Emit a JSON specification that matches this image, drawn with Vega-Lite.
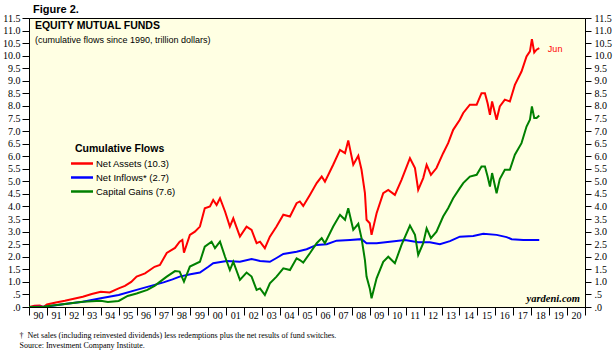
{
  "$schema": "https://vega.github.io/schema/vega-lite/v6.json",
  "width": 556,
  "height": 289,
  "autosize": "none",
  "padding": {"left": 29, "top": 18, "right": 31, "bottom": 46},
  "background": "white",
  "title": {"text": "Figure 2.", "anchor": "start", "frame": "group", "offset": 0, "dy": 2, "dx": 4, "font": "Liberation Sans", "fontSize": 11, "fontWeight": "bold", "color": "black"},
  "config": {
    "view": {"fill": "#FFFFE3", "stroke": "black", "strokeWidth": 1},
    "axis": {"grid": false, "domainColor": "black", "tickColor": "black", "labelColor": "black", "labelFont": "Liberation Serif", "labelFontSize": 10}
  },
  "data": {"values": [
    {"t": 1990.0, "s": "Net Assets (10.3)", "v": 0.0},
    {"t": 1990.3, "s": "Net Assets (10.3)", "v": 0.05},
    {"t": 1990.6, "s": "Net Assets (10.3)", "v": 0.06},
    {"t": 1990.8, "s": "Net Assets (10.3)", "v": 0.0},
    {"t": 1991.0, "s": "Net Assets (10.3)", "v": 0.1},
    {"t": 1991.5, "s": "Net Assets (10.3)", "v": 0.18},
    {"t": 1992.0, "s": "Net Assets (10.3)", "v": 0.25},
    {"t": 1992.5, "s": "Net Assets (10.3)", "v": 0.33},
    {"t": 1993.0, "s": "Net Assets (10.3)", "v": 0.41},
    {"t": 1993.5, "s": "Net Assets (10.3)", "v": 0.52},
    {"t": 1994.0, "s": "Net Assets (10.3)", "v": 0.61},
    {"t": 1994.5, "s": "Net Assets (10.3)", "v": 0.58},
    {"t": 1995.0, "s": "Net Assets (10.3)", "v": 0.74},
    {"t": 1995.35, "s": "Net Assets (10.3)", "v": 0.84},
    {"t": 1995.7, "s": "Net Assets (10.3)", "v": 1.0},
    {"t": 1996.0, "s": "Net Assets (10.3)", "v": 1.21},
    {"t": 1996.47, "s": "Net Assets (10.3)", "v": 1.34},
    {"t": 1997.0, "s": "Net Assets (10.3)", "v": 1.6},
    {"t": 1997.3, "s": "Net Assets (10.3)", "v": 1.67},
    {"t": 1997.68, "s": "Net Assets (10.3)", "v": 2.15},
    {"t": 1998.14, "s": "Net Assets (10.3)", "v": 2.35},
    {"t": 1998.4, "s": "Net Assets (10.3)", "v": 2.6},
    {"t": 1998.55, "s": "Net Assets (10.3)", "v": 2.67},
    {"t": 1998.64, "s": "Net Assets (10.3)", "v": 2.16},
    {"t": 1998.97, "s": "Net Assets (10.3)", "v": 2.87},
    {"t": 1999.25, "s": "Net Assets (10.3)", "v": 3.0},
    {"t": 1999.53, "s": "Net Assets (10.3)", "v": 3.2},
    {"t": 1999.8, "s": "Net Assets (10.3)", "v": 3.93},
    {"t": 2000.09, "s": "Net Assets (10.3)", "v": 4.0},
    {"t": 2000.27, "s": "Net Assets (10.3)", "v": 4.26},
    {"t": 2000.46, "s": "Net Assets (10.3)", "v": 4.06},
    {"t": 2000.65, "s": "Net Assets (10.3)", "v": 4.33},
    {"t": 2000.93, "s": "Net Assets (10.3)", "v": 3.8},
    {"t": 2001.2, "s": "Net Assets (10.3)", "v": 3.2},
    {"t": 2001.39, "s": "Net Assets (10.3)", "v": 3.53},
    {"t": 2001.76, "s": "Net Assets (10.3)", "v": 2.8},
    {"t": 2002.13, "s": "Net Assets (10.3)", "v": 3.2},
    {"t": 2002.41, "s": "Net Assets (10.3)", "v": 3.07},
    {"t": 2002.69, "s": "Net Assets (10.3)", "v": 2.54},
    {"t": 2002.88, "s": "Net Assets (10.3)", "v": 2.6},
    {"t": 2003.15, "s": "Net Assets (10.3)", "v": 2.34},
    {"t": 2003.43, "s": "Net Assets (10.3)", "v": 2.8},
    {"t": 2003.8, "s": "Net Assets (10.3)", "v": 3.2},
    {"t": 2004.18, "s": "Net Assets (10.3)", "v": 3.67},
    {"t": 2004.55, "s": "Net Assets (10.3)", "v": 3.6},
    {"t": 2004.92, "s": "Net Assets (10.3)", "v": 4.13},
    {"t": 2005.1, "s": "Net Assets (10.3)", "v": 4.2},
    {"t": 2005.29, "s": "Net Assets (10.3)", "v": 4.02},
    {"t": 2005.66, "s": "Net Assets (10.3)", "v": 4.46},
    {"t": 2006.04, "s": "Net Assets (10.3)", "v": 4.93},
    {"t": 2006.32, "s": "Net Assets (10.3)", "v": 5.19},
    {"t": 2006.5, "s": "Net Assets (10.3)", "v": 4.99},
    {"t": 2006.96, "s": "Net Assets (10.3)", "v": 5.66},
    {"t": 2007.34, "s": "Net Assets (10.3)", "v": 6.25},
    {"t": 2007.62, "s": "Net Assets (10.3)", "v": 6.12},
    {"t": 2007.8, "s": "Net Assets (10.3)", "v": 6.63},
    {"t": 2008.08, "s": "Net Assets (10.3)", "v": 5.66},
    {"t": 2008.36, "s": "Net Assets (10.3)", "v": 6.02},
    {"t": 2008.54, "s": "Net Assets (10.3)", "v": 5.46},
    {"t": 2008.73, "s": "Net Assets (10.3)", "v": 4.53},
    {"t": 2008.82, "s": "Net Assets (10.3)", "v": 3.47},
    {"t": 2009.0, "s": "Net Assets (10.3)", "v": 3.33},
    {"t": 2009.1, "s": "Net Assets (10.3)", "v": 2.87},
    {"t": 2009.38, "s": "Net Assets (10.3)", "v": 3.73},
    {"t": 2009.75, "s": "Net Assets (10.3)", "v": 4.53},
    {"t": 2010.03, "s": "Net Assets (10.3)", "v": 4.66},
    {"t": 2010.4, "s": "Net Assets (10.3)", "v": 4.46},
    {"t": 2010.77, "s": "Net Assets (10.3)", "v": 5.06},
    {"t": 2011.24, "s": "Net Assets (10.3)", "v": 5.92},
    {"t": 2011.52, "s": "Net Assets (10.3)", "v": 5.53},
    {"t": 2011.7, "s": "Net Assets (10.3)", "v": 4.66},
    {"t": 2011.98, "s": "Net Assets (10.3)", "v": 5.13},
    {"t": 2012.17, "s": "Net Assets (10.3)", "v": 5.66},
    {"t": 2012.41, "s": "Net Assets (10.3)", "v": 5.26},
    {"t": 2012.72, "s": "Net Assets (10.3)", "v": 5.53},
    {"t": 2013.09, "s": "Net Assets (10.3)", "v": 6.12},
    {"t": 2013.37, "s": "Net Assets (10.3)", "v": 6.52},
    {"t": 2013.65, "s": "Net Assets (10.3)", "v": 7.05},
    {"t": 2014.02, "s": "Net Assets (10.3)", "v": 7.45},
    {"t": 2014.21, "s": "Net Assets (10.3)", "v": 7.72},
    {"t": 2014.58, "s": "Net Assets (10.3)", "v": 8.05},
    {"t": 2014.96, "s": "Net Assets (10.3)", "v": 8.05},
    {"t": 2015.23, "s": "Net Assets (10.3)", "v": 8.51},
    {"t": 2015.42, "s": "Net Assets (10.3)", "v": 8.51},
    {"t": 2015.57, "s": "Net Assets (10.3)", "v": 8.11},
    {"t": 2015.7, "s": "Net Assets (10.3)", "v": 7.65},
    {"t": 2015.82, "s": "Net Assets (10.3)", "v": 8.18},
    {"t": 2016.07, "s": "Net Assets (10.3)", "v": 7.45},
    {"t": 2016.25, "s": "Net Assets (10.3)", "v": 7.98},
    {"t": 2016.53, "s": "Net Assets (10.3)", "v": 8.25},
    {"t": 2016.81, "s": "Net Assets (10.3)", "v": 8.18},
    {"t": 2017.09, "s": "Net Assets (10.3)", "v": 8.84},
    {"t": 2017.46, "s": "Net Assets (10.3)", "v": 9.37},
    {"t": 2017.74, "s": "Net Assets (10.3)", "v": 9.97},
    {"t": 2017.93, "s": "Net Assets (10.3)", "v": 10.17},
    {"t": 2018.04, "s": "Net Assets (10.3)", "v": 10.66},
    {"t": 2018.17, "s": "Net Assets (10.3)", "v": 10.13},
    {"t": 2018.3, "s": "Net Assets (10.3)", "v": 10.24},
    {"t": 2018.45, "s": "Net Assets (10.3)", "v": 10.3},

    {"t": 1990.0, "s": "Net Inflows* (2.7)", "v": 0.0},
    {"t": 1990.5, "s": "Net Inflows* (2.7)", "v": 0.01},
    {"t": 1991.0, "s": "Net Inflows* (2.7)", "v": 0.02},
    {"t": 1992.0, "s": "Net Inflows* (2.7)", "v": 0.12},
    {"t": 1993.0, "s": "Net Inflows* (2.7)", "v": 0.21},
    {"t": 1994.0, "s": "Net Inflows* (2.7)", "v": 0.35},
    {"t": 1995.0, "s": "Net Inflows* (2.7)", "v": 0.48},
    {"t": 1996.0, "s": "Net Inflows* (2.7)", "v": 0.68},
    {"t": 1997.0, "s": "Net Inflows* (2.7)", "v": 0.88},
    {"t": 1997.5, "s": "Net Inflows* (2.7)", "v": 0.98},
    {"t": 1998.0, "s": "Net Inflows* (2.7)", "v": 1.1},
    {"t": 1998.4, "s": "Net Inflows* (2.7)", "v": 1.21},
    {"t": 1999.0, "s": "Net Inflows* (2.7)", "v": 1.3},
    {"t": 1999.53, "s": "Net Inflows* (2.7)", "v": 1.37},
    {"t": 2000.0, "s": "Net Inflows* (2.7)", "v": 1.6},
    {"t": 2000.27, "s": "Net Inflows* (2.7)", "v": 1.74},
    {"t": 2001.02, "s": "Net Inflows* (2.7)", "v": 1.83},
    {"t": 2001.76, "s": "Net Inflows* (2.7)", "v": 1.8},
    {"t": 2002.41, "s": "Net Inflows* (2.7)", "v": 1.91},
    {"t": 2002.88, "s": "Net Inflows* (2.7)", "v": 1.83},
    {"t": 2003.43, "s": "Net Inflows* (2.7)", "v": 1.8},
    {"t": 2003.8, "s": "Net Inflows* (2.7)", "v": 1.95},
    {"t": 2004.18, "s": "Net Inflows* (2.7)", "v": 2.11},
    {"t": 2004.92, "s": "Net Inflows* (2.7)", "v": 2.2},
    {"t": 2005.48, "s": "Net Inflows* (2.7)", "v": 2.3},
    {"t": 2006.04, "s": "Net Inflows* (2.7)", "v": 2.47},
    {"t": 2006.6, "s": "Net Inflows* (2.7)", "v": 2.5},
    {"t": 2007.15, "s": "Net Inflows* (2.7)", "v": 2.64},
    {"t": 2007.9, "s": "Net Inflows* (2.7)", "v": 2.67},
    {"t": 2008.54, "s": "Net Inflows* (2.7)", "v": 2.7},
    {"t": 2008.82, "s": "Net Inflows* (2.7)", "v": 2.54},
    {"t": 2009.38, "s": "Net Inflows* (2.7)", "v": 2.54},
    {"t": 2010.12, "s": "Net Inflows* (2.7)", "v": 2.6},
    {"t": 2010.96, "s": "Net Inflows* (2.7)", "v": 2.67},
    {"t": 2011.7, "s": "Net Inflows* (2.7)", "v": 2.58},
    {"t": 2012.35, "s": "Net Inflows* (2.7)", "v": 2.58},
    {"t": 2012.91, "s": "Net Inflows* (2.7)", "v": 2.5},
    {"t": 2013.47, "s": "Net Inflows* (2.7)", "v": 2.62},
    {"t": 2014.02, "s": "Net Inflows* (2.7)", "v": 2.8},
    {"t": 2014.77, "s": "Net Inflows* (2.7)", "v": 2.83},
    {"t": 2015.33, "s": "Net Inflows* (2.7)", "v": 2.91},
    {"t": 2016.07, "s": "Net Inflows* (2.7)", "v": 2.87},
    {"t": 2016.63, "s": "Net Inflows* (2.7)", "v": 2.78},
    {"t": 2016.91, "s": "Net Inflows* (2.7)", "v": 2.7},
    {"t": 2017.56, "s": "Net Inflows* (2.7)", "v": 2.67},
    {"t": 2018.45, "s": "Net Inflows* (2.7)", "v": 2.67},

    {"t": 1990.0, "s": "Capital Gains (7.6)", "v": 0.0},
    {"t": 1990.8, "s": "Capital Gains (7.6)", "v": 0.0},
    {"t": 1991.0, "s": "Capital Gains (7.6)", "v": 0.03},
    {"t": 1992.0, "s": "Capital Gains (7.6)", "v": 0.12},
    {"t": 1993.0, "s": "Capital Gains (7.6)", "v": 0.21},
    {"t": 1994.0, "s": "Capital Gains (7.6)", "v": 0.25},
    {"t": 1994.4, "s": "Capital Gains (7.6)", "v": 0.2},
    {"t": 1995.0, "s": "Capital Gains (7.6)", "v": 0.24},
    {"t": 1995.5, "s": "Capital Gains (7.6)", "v": 0.44},
    {"t": 1996.0, "s": "Capital Gains (7.6)", "v": 0.54},
    {"t": 1996.6, "s": "Capital Gains (7.6)", "v": 0.68},
    {"t": 1997.0, "s": "Capital Gains (7.6)", "v": 0.84},
    {"t": 1997.55, "s": "Capital Gains (7.6)", "v": 1.14},
    {"t": 1997.68, "s": "Capital Gains (7.6)", "v": 1.21},
    {"t": 1998.14, "s": "Capital Gains (7.6)", "v": 1.43},
    {"t": 1998.4, "s": "Capital Gains (7.6)", "v": 1.41},
    {"t": 1998.64, "s": "Capital Gains (7.6)", "v": 1.01},
    {"t": 1998.97, "s": "Capital Gains (7.6)", "v": 1.61},
    {"t": 1999.53, "s": "Capital Gains (7.6)", "v": 1.8},
    {"t": 1999.8, "s": "Capital Gains (7.6)", "v": 2.4},
    {"t": 2000.18, "s": "Capital Gains (7.6)", "v": 2.6},
    {"t": 2000.37, "s": "Capital Gains (7.6)", "v": 2.34},
    {"t": 2000.65, "s": "Capital Gains (7.6)", "v": 2.6},
    {"t": 2000.93, "s": "Capital Gains (7.6)", "v": 2.0},
    {"t": 2001.2, "s": "Capital Gains (7.6)", "v": 1.47},
    {"t": 2001.39, "s": "Capital Gains (7.6)", "v": 1.8},
    {"t": 2001.76, "s": "Capital Gains (7.6)", "v": 1.08},
    {"t": 2002.13, "s": "Capital Gains (7.6)", "v": 1.37},
    {"t": 2002.41, "s": "Capital Gains (7.6)", "v": 1.21},
    {"t": 2002.69, "s": "Capital Gains (7.6)", "v": 0.68},
    {"t": 2002.88, "s": "Capital Gains (7.6)", "v": 0.74},
    {"t": 2003.15, "s": "Capital Gains (7.6)", "v": 0.48},
    {"t": 2003.43, "s": "Capital Gains (7.6)", "v": 0.94},
    {"t": 2003.8, "s": "Capital Gains (7.6)", "v": 1.21},
    {"t": 2004.18, "s": "Capital Gains (7.6)", "v": 1.54},
    {"t": 2004.55, "s": "Capital Gains (7.6)", "v": 1.47},
    {"t": 2004.92, "s": "Capital Gains (7.6)", "v": 1.94},
    {"t": 2005.1, "s": "Capital Gains (7.6)", "v": 1.87},
    {"t": 2005.29, "s": "Capital Gains (7.6)", "v": 1.77},
    {"t": 2005.66, "s": "Capital Gains (7.6)", "v": 2.14},
    {"t": 2006.04, "s": "Capital Gains (7.6)", "v": 2.54},
    {"t": 2006.32, "s": "Capital Gains (7.6)", "v": 2.74},
    {"t": 2006.5, "s": "Capital Gains (7.6)", "v": 2.54},
    {"t": 2006.96, "s": "Capital Gains (7.6)", "v": 3.2},
    {"t": 2007.34, "s": "Capital Gains (7.6)", "v": 3.67},
    {"t": 2007.62, "s": "Capital Gains (7.6)", "v": 3.47},
    {"t": 2007.8, "s": "Capital Gains (7.6)", "v": 3.93},
    {"t": 2008.08, "s": "Capital Gains (7.6)", "v": 3.07},
    {"t": 2008.36, "s": "Capital Gains (7.6)", "v": 3.31},
    {"t": 2008.54, "s": "Capital Gains (7.6)", "v": 2.74},
    {"t": 2008.73, "s": "Capital Gains (7.6)", "v": 1.87},
    {"t": 2008.82, "s": "Capital Gains (7.6)", "v": 1.21},
    {"t": 2009.0, "s": "Capital Gains (7.6)", "v": 0.74},
    {"t": 2009.1, "s": "Capital Gains (7.6)", "v": 0.35},
    {"t": 2009.38, "s": "Capital Gains (7.6)", "v": 1.14},
    {"t": 2009.75, "s": "Capital Gains (7.6)", "v": 1.8},
    {"t": 2010.03, "s": "Capital Gains (7.6)", "v": 2.0},
    {"t": 2010.4, "s": "Capital Gains (7.6)", "v": 1.74},
    {"t": 2010.77, "s": "Capital Gains (7.6)", "v": 2.47},
    {"t": 2011.24, "s": "Capital Gains (7.6)", "v": 3.24},
    {"t": 2011.52, "s": "Capital Gains (7.6)", "v": 2.87},
    {"t": 2011.7, "s": "Capital Gains (7.6)", "v": 2.07},
    {"t": 2011.98, "s": "Capital Gains (7.6)", "v": 2.54},
    {"t": 2012.17, "s": "Capital Gains (7.6)", "v": 3.13},
    {"t": 2012.41, "s": "Capital Gains (7.6)", "v": 2.74},
    {"t": 2012.72, "s": "Capital Gains (7.6)", "v": 3.0},
    {"t": 2013.09, "s": "Capital Gains (7.6)", "v": 3.6},
    {"t": 2013.37, "s": "Capital Gains (7.6)", "v": 3.93},
    {"t": 2013.65, "s": "Capital Gains (7.6)", "v": 4.33},
    {"t": 2014.02, "s": "Capital Gains (7.6)", "v": 4.73},
    {"t": 2014.21, "s": "Capital Gains (7.6)", "v": 4.93},
    {"t": 2014.58, "s": "Capital Gains (7.6)", "v": 5.19},
    {"t": 2014.96, "s": "Capital Gains (7.6)", "v": 5.26},
    {"t": 2015.23, "s": "Capital Gains (7.6)", "v": 5.59},
    {"t": 2015.42, "s": "Capital Gains (7.6)", "v": 5.59},
    {"t": 2015.57, "s": "Capital Gains (7.6)", "v": 5.19},
    {"t": 2015.7, "s": "Capital Gains (7.6)", "v": 4.79},
    {"t": 2015.82, "s": "Capital Gains (7.6)", "v": 5.33},
    {"t": 2016.07, "s": "Capital Gains (7.6)", "v": 4.53},
    {"t": 2016.25, "s": "Capital Gains (7.6)", "v": 5.09},
    {"t": 2016.53, "s": "Capital Gains (7.6)", "v": 5.46},
    {"t": 2016.81, "s": "Capital Gains (7.6)", "v": 5.46},
    {"t": 2017.09, "s": "Capital Gains (7.6)", "v": 6.06},
    {"t": 2017.46, "s": "Capital Gains (7.6)", "v": 6.52},
    {"t": 2017.74, "s": "Capital Gains (7.6)", "v": 7.18},
    {"t": 2017.93, "s": "Capital Gains (7.6)", "v": 7.45},
    {"t": 2018.04, "s": "Capital Gains (7.6)", "v": 7.98},
    {"t": 2018.17, "s": "Capital Gains (7.6)", "v": 7.52},
    {"t": 2018.3, "s": "Capital Gains (7.6)", "v": 7.52},
    {"t": 2018.45, "s": "Capital Gains (7.6)", "v": 7.62}
  ]},
  "layer": [
    {
      "encoding": {
        "x": {
          "field": "t", "type": "quantitative",
          "scale": {"domain": [1990, 2021], "nice": false, "zero": false},
          "axis": {
            "values": [1990,1991,1992,1993,1994,1995,1996,1997,1998,1999,2000,2001,2002,2003,2004,2005,2006,2007,2008,2009,2010,2011,2012,2013,2014,2015,2016,2017,2018,2019,2020,2021],
            "labelExpr": "datum.value >= 2021 ? '' : slice(toString(datum.value), 2)",
            "labelOffset": 9, "labelFlush": false, "labelOverlap": false, "labelBaseline": "top",
            "tickSize": 8, "labelPadding": -5,
            "title": ["\u2020\u00a0\u00a0Net sales (including reinvested dividends) less redemptions plus the net results of fund switches.", "\u00a0\u00a0\u00a0\u00a0Source: Investment Company Institute."],
            "titleFont": "Liberation Serif", "titleFontSize": 8, "titleFontWeight": "normal", "titleColor": "black",
            "titleAnchor": "start", "titleAlign": "left", "titleBaseline": "top", "titleLineHeight": 10,
            "titleX": -10, "titleY": 24
          }
        },
        "y": {
          "field": "v", "type": "quantitative",
          "scale": {"domain": [0, 11.5], "nice": false},
          "axis": {
            "values": [0,0.5,1,1.5,2,2.5,3,3.5,4,4.5,5,5.5,6,6.5,7,7.5,8,8.5,9,9.5,10,10.5,11,11.5],
            "labelExpr": "datum.value == 0 ? '.0' : datum.value == 0.5 ? '.5' : format(datum.value, '.1f')",
            "tickSize": 7, "labelPadding": 2, "labelFlush": false, "labelOverlap": false, "title": null
          }
        }
      },
      "layer": [
        {
          "mark": {"type": "line", "strokeWidth": 2, "clip": true},
          "encoding": {
            "color": {
              "field": "s", "type": "nominal",
              "scale": {"domain": ["Net Assets (10.3)", "Net Inflows* (2.7)", "Capital Gains (7.6)"], "range": ["#FF0000", "#0000FF", "#008000"]},
              "legend": {
                "title": "Cumulative Flows",
                "orient": "none",
                "legendX": 46,
                "legendY": 126,
                "symbolType": "M-2,0H2",
                "symbolSize": 121,
                "symbolStrokeWidth": 2.5,
                "symbolFillColor": "transparent",
                "labelFont": "Liberation Sans",
                "labelFontSize": 9.5,
                "labelColor": "black",
                "labelOffset": 7,
                "titleFont": "Liberation Sans",
                "titleFontSize": 10.5,
                "titleFontWeight": "bold",
                "titleColor": "black",
                "titlePadding": 2,
                "rowPadding": 2
              }
            }
          }
        },
        {
          "data": {"values": [{"t": 1990.33, "v": 11.06}]},
          "mark": {"type": "text", "text": "EQUITY MUTUAL FUNDS", "align": "left", "baseline": "alphabetic", "font": "Liberation Sans", "fontSize": 10.5, "fontWeight": "bold", "color": "black"}
        },
        {
          "data": {"values": [{"t": 1990.33, "v": 10.52}]},
          "mark": {"type": "text", "text": "(cumulative flows since 1990, trillion dollars)", "align": "left", "baseline": "alphabetic", "font": "Liberation Sans", "fontSize": 9, "color": "black"}
        },
        {
          "data": {"values": [{"t": 2018.93, "v": 10.28}]},
          "mark": {"type": "text", "text": "Jun", "align": "left", "baseline": "middle", "font": "Liberation Sans", "fontSize": 9, "color": "#FF0000"}
        },
        {
          "data": {"values": [{"t": 2020.72, "v": 0.19}]},
          "mark": {"type": "text", "text": "yardeni.com", "align": "right", "baseline": "alphabetic", "font": "Liberation Serif", "fontSize": 10.5, "fontWeight": "bold", "fontStyle": "italic", "color": "black"}
        }
      ]
    },
    {
      "data": {"values": [{"v": 0}]},
      "mark": {"type": "rule", "opacity": 0},
      "encoding": {
        "y": {
          "field": "v", "type": "quantitative",
          "scale": {"domain": [0, 11.5], "nice": false},
          "axis": {
            "orient": "right",
            "values": [0,0.5,1,1.5,2,2.5,3,3.5,4,4.5,5,5.5,6,6.5,7,7.5,8,8.5,9,9.5,10,10.5,11,11.5],
            "labelExpr": "datum.value == 0 ? '.0' : datum.value == 0.5 ? '.5' : format(datum.value, '.1f')",
            "tickSize": 6, "labelPadding": 3, "labelFlush": false, "labelOverlap": false, "title": null
          }
        }
      }
    }
  ],
  "resolve": {"scale": {"y": "independent"}}
}
